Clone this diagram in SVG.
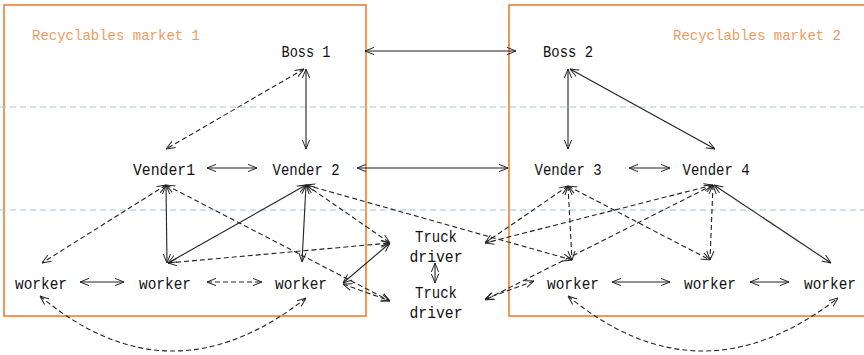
<svg xmlns="http://www.w3.org/2000/svg" width="864" height="355" viewBox="0 0 864 355">
<style>
.bg{fill:#fff}
.box{fill:none;stroke:#ed7d31;stroke-width:1.6}
.sep{fill:none;stroke:#9dc3e6;stroke-width:1.2;stroke-dasharray:6 4}
.mk{font-family:"Liberation Mono","DejaVu Sans Mono",monospace;font-size:15px;fill:#f19a5c}
.lbl{font-family:"Liberation Mono","DejaVu Sans Mono",monospace;font-size:16px;fill:#111;text-anchor:middle}
.s{fill:none;stroke:#222;stroke-width:1.1;marker-start:url(#ah);marker-end:url(#ah)}
.d{fill:none;stroke:#222;stroke-width:1.1;stroke-dasharray:5 3;marker-start:url(#ah);marker-end:url(#ah)}
</style>
<defs>
<marker id="ah" viewBox="0 0 10 10" refX="10" refY="5" markerWidth="9" markerHeight="9" markerUnits="userSpaceOnUse" orient="auto-start-reverse">
<path d="M0,1 L10,5 L0,9" fill="none" stroke="#222" stroke-width="1.1" stroke-dasharray="none"/>
</marker>
</defs>
<rect class="bg" x="0" y="0" width="864" height="355"/>
<g id="markets">
<rect class="box" x="4" y="5" width="362" height="311"/>
<rect class="box" x="509" y="5" width="360" height="311"/>
<line class="sep" x1="0" y1="107" x2="864" y2="107" style="stroke:#a3c9c6"/>
<line class="sep" x1="0" y1="210" x2="864" y2="210"/>
<text class="mk" x="32" y="40" textLength="168" lengthAdjust="spacingAndGlyphs">Recyclables market 1</text>
<text class="mk" x="673" y="40" textLength="168" lengthAdjust="spacingAndGlyphs">Recyclables market 2</text>
</g>
<g id="connectors">
<line class="s" x1="365" y1="51" x2="516" y2="51"/>
<line class="s" x1="306" y1="69" x2="306" y2="149"/>
<line class="s" x1="568" y1="69" x2="568" y2="149"/>
<line class="s" x1="570" y1="69" x2="715" y2="149"/>
<line class="s" x1="207" y1="168" x2="257" y2="168"/>
<line class="s" x1="357" y1="168" x2="508" y2="168"/>
<line class="s" x1="629" y1="168" x2="670" y2="168"/>
<line class="s" x1="80" y1="282" x2="124" y2="282"/>
<line class="s" x1="612" y1="282" x2="670" y2="282"/>
<line class="s" x1="750" y1="282" x2="789" y2="282"/>
<line class="s" x1="435" y1="263" x2="435" y2="283"/>
<line class="s" x1="166" y1="185" x2="167" y2="263"/>
<line class="s" x1="306" y1="185" x2="168" y2="263"/>
<line class="s" x1="306" y1="185" x2="302" y2="262"/>
<line class="s" x1="343" y1="283" x2="390" y2="243"/>
<line class="s" x1="714" y1="185" x2="831" y2="263"/>
<line class="d" x1="304" y1="69" x2="166" y2="149"/>
<line class="d" x1="207" y1="282" x2="262" y2="282"/>
<line class="d" x1="166" y1="185" x2="42" y2="263"/>
<line class="d" x1="166" y1="185" x2="390" y2="301"/>
<line class="d" x1="306" y1="185" x2="390" y2="243"/>
<line class="d" x1="306" y1="185" x2="572" y2="260"/>
<line class="d" x1="168" y1="263" x2="390" y2="243"/>
<line class="d" x1="343" y1="284" x2="390" y2="301"/>
<line class="d" x1="568" y1="186" x2="485" y2="243"/>
<line class="d" x1="568" y1="186" x2="572" y2="260"/>
<line class="d" x1="568" y1="186" x2="710" y2="260"/>
<line class="d" x1="713" y1="185" x2="485" y2="243"/>
<line class="d" x1="713" y1="185" x2="710" y2="260"/>
<line class="d" x1="713" y1="185" x2="485" y2="300"/>
<line class="d" x1="534" y1="281" x2="485" y2="299"/>
<path class="d" d="M40,296 Q170,405 306,298"/>
<path class="d" d="M568,296 Q700,405 838,298"/>
</g>
<g id="boss1"><text class="lbl" x="306" y="57" textLength="49" lengthAdjust="spacingAndGlyphs">Boss 1</text></g>
<g id="boss2"><text class="lbl" x="568" y="57" textLength="50" lengthAdjust="spacingAndGlyphs">Boss 2</text></g>
<g id="vender1"><text class="lbl" x="164" y="175" textLength="62" lengthAdjust="spacingAndGlyphs">Vender1</text></g>
<g id="vender2"><text class="lbl" x="306" y="175" textLength="67" lengthAdjust="spacingAndGlyphs">Vender 2</text></g>
<g id="vender3"><text class="lbl" x="568" y="175" textLength="67" lengthAdjust="spacingAndGlyphs">Vender 3</text></g>
<g id="vender4"><text class="lbl" x="716" y="175" textLength="67" lengthAdjust="spacingAndGlyphs">Vender 4</text></g>
<g id="worker1"><text class="lbl" x="41" y="289" textLength="52" lengthAdjust="spacingAndGlyphs">worker</text></g>
<g id="worker2"><text class="lbl" x="165" y="289" textLength="52" lengthAdjust="spacingAndGlyphs">worker</text></g>
<g id="worker3"><text class="lbl" x="301" y="289" textLength="52" lengthAdjust="spacingAndGlyphs">worker</text></g>
<g id="worker4"><text class="lbl" x="573" y="289" textLength="52" lengthAdjust="spacingAndGlyphs">worker</text></g>
<g id="worker5"><text class="lbl" x="710" y="289" textLength="52" lengthAdjust="spacingAndGlyphs">worker</text></g>
<g id="worker6"><text class="lbl" x="830" y="289" textLength="52" lengthAdjust="spacingAndGlyphs">worker</text></g>
<g id="truck1"><text class="lbl" x="436" y="242" textLength="42" lengthAdjust="spacingAndGlyphs">Truck</text><text class="lbl" x="436" y="262" textLength="53" lengthAdjust="spacingAndGlyphs">driver</text></g>
<g id="truck2"><text class="lbl" x="436" y="298" textLength="42" lengthAdjust="spacingAndGlyphs">Truck</text><text class="lbl" x="436" y="318" textLength="53" lengthAdjust="spacingAndGlyphs">driver</text></g>
</svg>
